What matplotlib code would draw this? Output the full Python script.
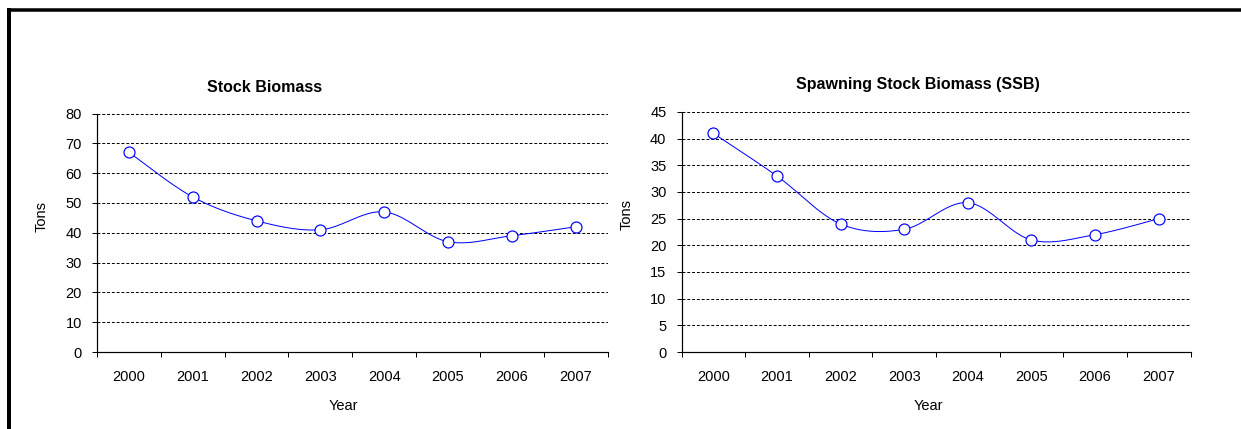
import numpy as np
import matplotlib
matplotlib.use("Agg")
import matplotlib.pyplot as plt
from matplotlib.lines import Line2D
from matplotlib.ticker import FixedLocator, NullFormatter

plt.rcParams['font.family'] = ['Liberation Sans', 'DejaVu Sans']

years = ['2000', '2001', '2002', '2003', '2004', '2005', '2006', '2007']
stock_biomass = [67, 52, 44, 41, 47, 37, 39, 42]
ssb = [41, 33, 24, 23, 28, 21, 22, 25]

W, H, DPI = 1241, 429, 100
fig = plt.figure(figsize=(W / DPI, H / DPI), dpi=DPI)

PX = 72.0 / DPI  # points per pixel


def smooth_curve(xs, ys, n=40):
    """Cubic Bezier smoothing through every point (Catmull-Rom style)."""
    xs = np.asarray(xs, float)
    ys = np.asarray(ys, float)
    px = np.concatenate([[xs[0]], xs, [xs[-1]]])
    py = np.concatenate([[ys[0]], ys, [ys[-1]]])
    out_x, out_y = [], []
    t = np.linspace(0, 1, n)
    for i in range(1, len(px) - 2):
        p0 = np.array([px[i], py[i]])
        p3 = np.array([px[i + 1], py[i + 1]])
        c1 = p0 + (np.array([px[i + 1], py[i + 1]]) - np.array([px[i - 1], py[i - 1]])) / 6
        c2 = p3 - (np.array([px[i + 2], py[i + 2]]) - np.array([px[i], py[i]])) / 6
        b = ((1 - t) ** 3)[:, None] * p0 + (3 * (1 - t) ** 2 * t)[:, None] * c1 \
            + (3 * (1 - t) * t ** 2)[:, None] * c2 + (t ** 3)[:, None] * p3
        out_x.extend(b[:, 0])
        out_y.extend(b[:, 1])
    return np.array(out_x), np.array(out_y)


def panel(rect, values, ymax, ystep, title, title_xy, ylab_xy, xlab_xy):
    ax = fig.add_axes(rect)
    x = np.arange(len(years)) + 0.5
    sx, sy = smooth_curve(x, values)
    ax.plot(sx, sy, color='#0000FF', lw=1.0 * PX, zorder=3)
    ax.plot(x, values, linestyle='none', marker='o', ms=11 * PX,
            mfc='white', mec='#0000FF', mew=1.2 * PX, zorder=4)

    ax.set_xlim(0, len(years))
    ax.set_ylim(0, ymax)
    ax.set_yticks(np.arange(0, ymax + 0.1, ystep))
    ax.set_xticks(x)
    ax.set_xticklabels(years)
    ax.xaxis.set_minor_locator(FixedLocator(np.arange(0, len(years) + 1)))
    ax.xaxis.set_minor_formatter(NullFormatter())
    ax.tick_params(axis='x', which='major', length=0, pad=18 * PX, labelsize=10.5)
    ax.tick_params(axis='x', which='minor', length=5 * PX, width=1 * PX, direction='out')
    ax.tick_params(axis='y', length=5 * PX, width=1 * PX, direction='out',
                   pad=10 * PX, labelsize=10.5)

    ax.yaxis.grid(True, color='black', lw=1 * PX, linestyle=(0, (2.9, 1.9)))
    ax.set_axisbelow(True)
    for s in ('top', 'right'):
        ax.spines[s].set_visible(False)
    for s in ('left', 'bottom'):
        ax.spines[s].set_linewidth(1.2 * PX)
        ax.spines[s].set_zorder(5)

    fig.text(title_xy[0] / W, 1 - title_xy[1] / H, title, ha='center', va='center',
             fontsize=11.5, fontweight='bold')
    fig.text(ylab_xy[0] / W, 1 - ylab_xy[1] / H, 'Tons', ha='center', va='center',
             rotation=90, fontsize=10.5)
    fig.text(xlab_xy[0] / W, 1 - xlab_xy[1] / H, 'Year', ha='center', va='center',
             fontsize=10.5)
    return ax


def frac_rect(x0, x1, ytop, ybot):
    return [x0 / W, 1 - ybot / H, (x1 - x0) / W, (ybot - ytop) / H]


panel(frac_rect(97, 607.5, 113.5, 352), stock_biomass, 80, 10,
      'Stock Biomass', (265, 87), (42, 216), (343, 406))
panel(frac_rect(681.5, 1190.5, 112, 352), ssb, 45, 5,
      'Spawning Stock Biomass (SSB)', (918, 85), (627, 215), (928, 406))

# outer chart frame (top and left edges)
fig.add_artist(Line2D([8 / W, 1.0], [1 - 10 / H, 1 - 10 / H], color='black',
                      lw=3.5 * PX, solid_capstyle='butt', transform=fig.transFigure))
fig.add_artist(Line2D([9.3 / W, 9.3 / W], [0, 1 - 8.3 / H], color='black',
                      lw=4 * PX, solid_capstyle='butt', transform=fig.transFigure))

fig.savefig('out.png', dpi=DPI, facecolor='white')
